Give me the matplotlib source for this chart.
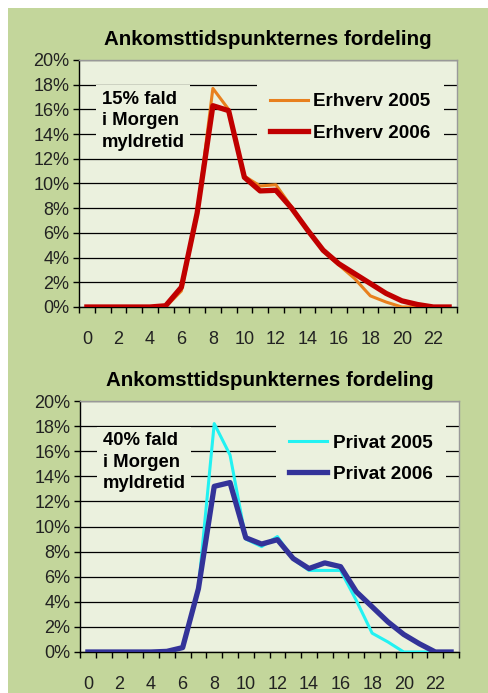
"""
Ankomsttidspunkternes fordeling - Erhverv vs Privat, 2005 og 2006
"""
import matplotlib
matplotlib.use("Agg")
import matplotlib.pyplot as plt
from matplotlib.patches import Rectangle
from matplotlib.ticker import FixedLocator, PercentFormatter

plt.rcParams['font.family'] = ['Liberation Sans', 'DejaVu Sans']

hours = list(range(24))
hour_labels = [str(h) if h % 2 == 0 else '' for h in hours]

erhverv_2005 = [0, 0, 0, 0, 0, 0, 1.3, 7.5, 17.7, 16.0, 10.6, 9.8, 9.9, 8.1,
                6.3, 4.5, 3.4, 2.3, 0.9, 0.4, 0, 0, 0, 0]
erhverv_2006 = [0, 0, 0, 0, 0, 0.1, 1.6, 7.6, 16.3, 15.9, 10.5, 9.4, 9.45, 8.0,
                6.25, 4.6, 3.5, 2.7, 1.9, 1.1, 0.5, 0.2, 0, 0]
privat_2005 = [0, 0, 0, 0, 0, 0, 0.3, 5.1, 18.2, 15.7, 9.0, 8.4, 9.2, 7.4,
               6.5, 6.5, 6.5, 4.1, 1.5, 0.8, 0, 0, 0, 0]
privat_2006 = [0, 0, 0, 0, 0, 0.05, 0.35, 5.05, 13.2, 13.5, 9.1, 8.6, 8.95, 7.45,
               6.65, 7.1, 6.8, 4.8, 3.6, 2.4, 1.4, 0.65, 0, 0]

TITLE = "Ankomsttidspunkternes fordeling"
OUTER_GREEN = '#c3d69b'
PLOT_BG = '#ebf1de'


def draw_panel(ax, s2005, s2006, lab2005, lab2006, c2005, c2006, note):
    """ one chart panel """
    ax.set_facecolor(PLOT_BG)
    ax.plot(hours, s2005, color=c2005, lw=2.2, label=lab2005, zorder=3,
            solid_joinstyle='round')
    ax.plot(hours, s2006, color=c2006, lw=3.8, label=lab2006, zorder=4,
            solid_joinstyle='round')

    ax.set_xlim(-0.5, 23.5)
    ax.set_ylim(0, 20)
    ax.set_xticks(hours)
    ax.set_xticklabels(hour_labels)
    ax.xaxis.set_minor_locator(FixedLocator([h - 0.5 for h in range(25)]))
    ax.tick_params(axis='x', which='major', length=0, pad=17, labelsize=13,
                   colors='#222222')
    ax.tick_params(axis='x', which='minor', length=4, direction='out', width=1)
    ax.set_yticks(range(0, 21, 2))
    ax.yaxis.set_major_formatter(PercentFormatter(decimals=0))
    ax.tick_params(axis='y', length=4, direction='out', width=1, labelsize=13,
                   colors='#222222', pad=3)
    ax.tick_params(axis='both', which='both', color='black')
    ax.grid(axis='y', color='black', lw=0.9, zorder=1)

    ax.spines['left'].set_color('black')
    ax.spines['bottom'].set_color('black')
    ax.spines['top'].set_color('#999999')
    ax.spines['right'].set_color('#999999')
    for s in ax.spines.values():
        s.set_linewidth(1.0)

    ax.set_title(TITLE, fontsize=14.8, fontweight='bold', pad=11)

    ax.text(0.06, 0.875, note, transform=ax.transAxes, ha='left', va='top',
            fontsize=13.3, fontweight='bold', linespacing=1.35, zorder=5,
            bbox=dict(boxstyle='square,pad=0.3', facecolor=PLOT_BG,
                      edgecolor='none'))

    leg = ax.legend(loc='upper right', bbox_to_anchor=(0.975, 0.935), frameon=True,
                    fontsize=13.6, handlelength=2.0, handletextpad=0.3,
                    labelspacing=0.75, borderpad=0.4, framealpha=1)
    leg.get_frame().set_facecolor(PLOT_BG)
    leg.get_frame().set_edgecolor('none')
    leg.get_frame().set_boxstyle('square')
    for t in leg.get_texts():
        t.set_fontweight('bold')
    leg.set_zorder(5)


fig = plt.figure(figsize=(4.88, 6.93), dpi=100)
fig.patch.set_facecolor('white')
fig.patches.append(Rectangle((8 / 488, 0), 1 - 8 / 488, 1 - 8 / 693,
                             transform=fig.transFigure, facecolor=OUTER_GREEN,
                             edgecolor='none', zorder=-1))

ax_top = fig.add_axes([79 / 488, 386 / 693, 378 / 488, 247 / 693])
ax_bot = fig.add_axes([80 / 488, 41 / 693, 379 / 488, 251 / 693])

draw_panel(ax_top, erhverv_2005, erhverv_2006, 'Erhverv 2005', 'Erhverv 2006',
           '#e8801e', '#c00000', "15% fald\ni Morgen\nmyldretid")
draw_panel(ax_bot, privat_2005, privat_2006, 'Privat 2005', 'Privat 2006',
           '#22f2f2', '#333399', "40% fald\ni Morgen\nmyldretid")

fig.savefig('out.png', dpi=100, facecolor=fig.get_facecolor())
